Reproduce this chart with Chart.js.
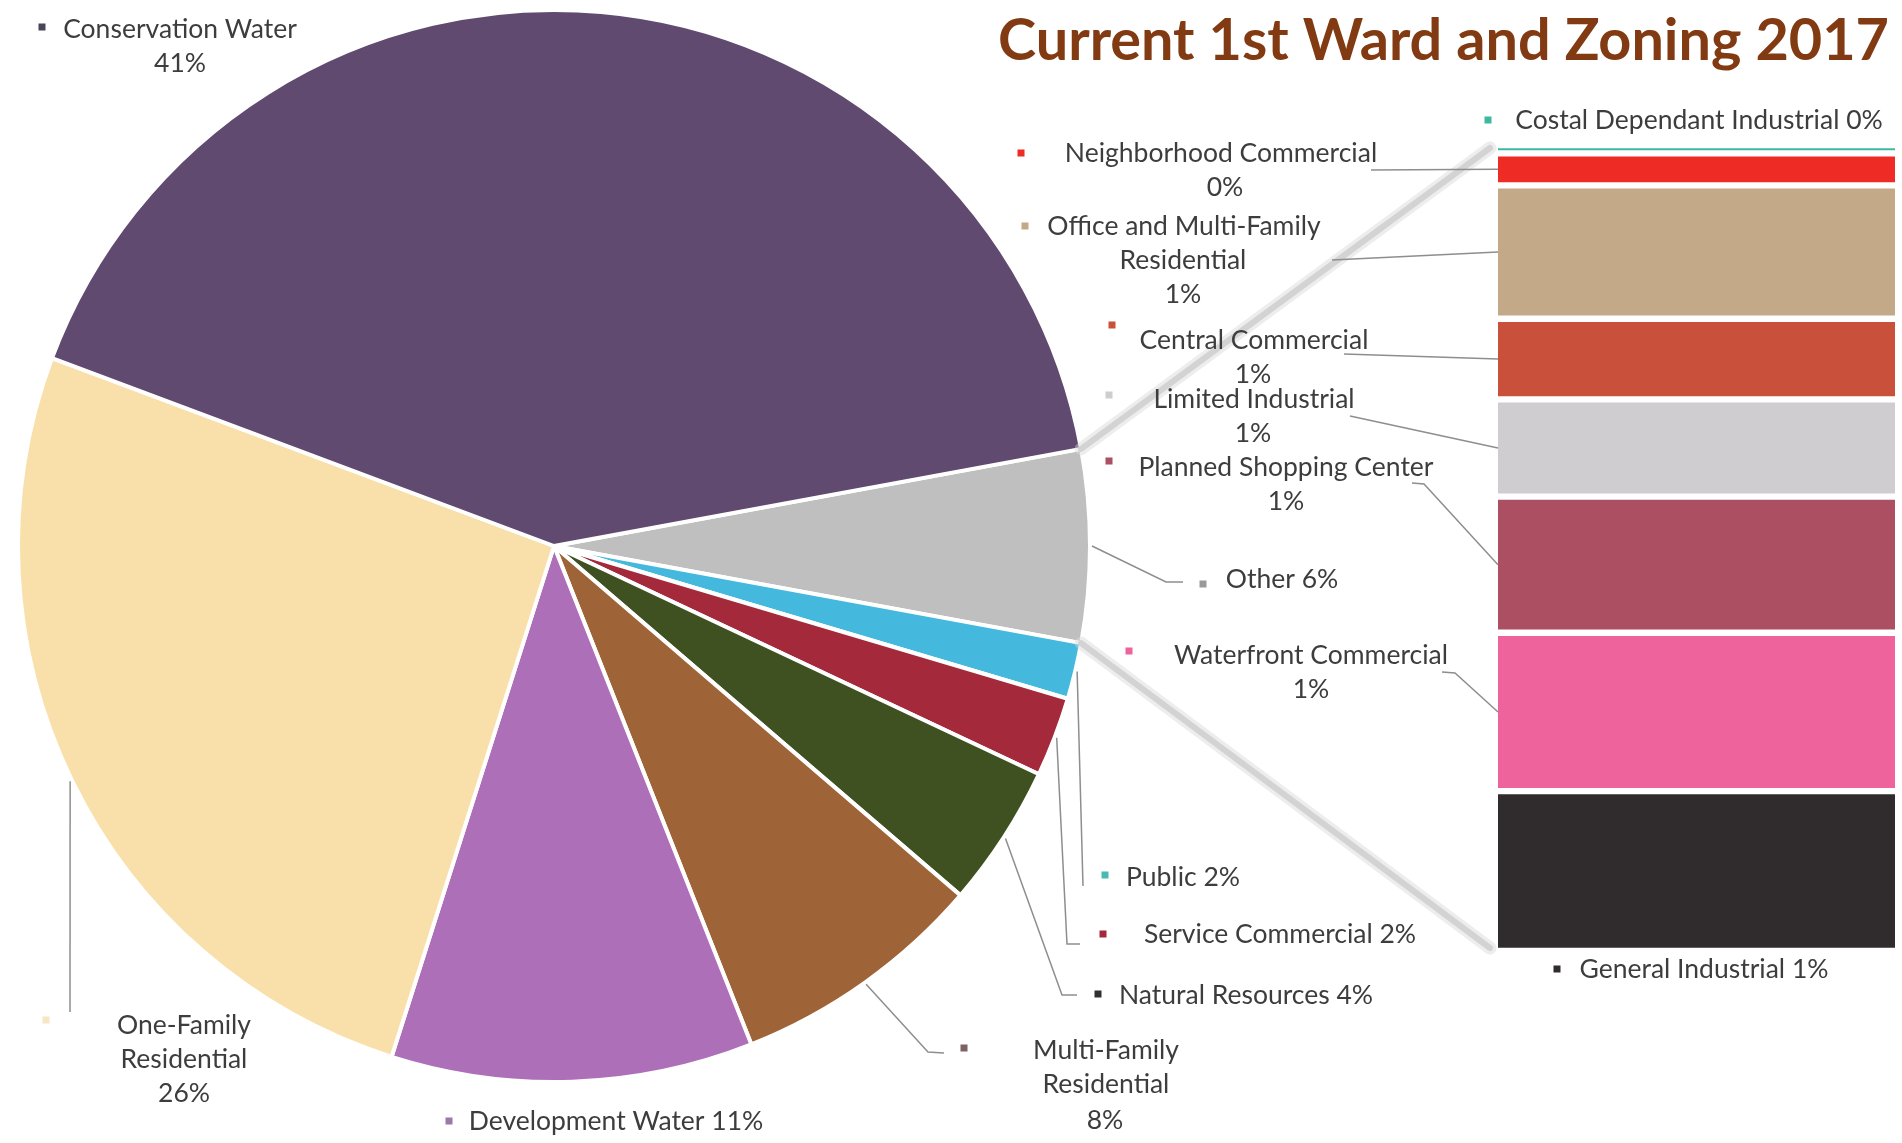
<!DOCTYPE html>
<html>
<head>
<meta charset="utf-8">
<script src="https://cdn.jsdelivr.net/npm/chart.js@4.4.1/dist/chart.umd.min.js"></script>
<style>
  html, body { margin: 0; padding: 0; background: #fff; }
  #wrap { position: relative; width: 1902px; height: 1143px; overflow: hidden; }
  canvas { position: absolute; left: 0; top: 0; }
</style>
</head>
<body>
<div id="wrap">
  <canvas id="pieChart" width="1902" height="1143"></canvas>
  <canvas id="barChart" width="1902" height="1143"></canvas>
</div>
<script>
// pie slices, clockwise starting with "Other" (which is split into the bar)
const pieLabels = ["Other", "Public", "Service Commercial", "Natural Resources",
    "Multi-Family Residential", "Development Water", "One-Family Residential", "Conservation Water"];
const pieValues = [5.8, 1.7, 2.4, 4.3, 7.7, 10.9, 25.8, 41.4];
const pieColors = ["#bfbfbf", "#45b8de", "#a3293b", "#3f5121", "#9f6338", "#ad6fb8", "#f9e0ab", "#604a70"];
// legend keys inside the labels render a bit differently from the slices
const pieKeyColors = ["#9a9a9a", "#4cb8b4", "#a3293b", "#303030", "#7d6262", "#9a78a8", "#f6e6c4", "#4a4458"];

// breakdown of "Other", top to bottom
const barLabels = ["Costal Dependant Industrial", "Neighborhood Commercial", "Office and Multi-Family Residential",
    "Central Commercial", "Limited Industrial", "Planned Shopping Center", "Waterfront Commercial", "General Industrial"];
const barValues = [0.06, 0.23, 0.96, 0.58, 0.70, 0.98, 1.14, 1.15];
const barColors = ["#3cb9a0", "#ee2b24", "#c3a988", "#c9503a", "#cfcdcf", "#ad4f63", "#ee639c", "#302c2e"];

const titleText = "Current 1st Ward and Zoning 2017";
const textColor = "#3d3d3d";
const leaderColor = "#8e8e8e";

// hand placed label boxes (Excel labels were dragged around)
// lines: [text, centerX, y], key: [x, y], path: leader points on the label side
const pieLabelPos = {
    "Conservation Water": { lines: [["Conservation Water", 180, 29], ["%", 180, 63]], key: [42, 27] },
    "One-Family Residential": { lines: [["One-Family", 184, 1025], ["Residential", 184, 1059], ["%", 184, 1093]], key: [46, 1020], path: [[70, 1012]] },
    "Development Water": { lines: [["Development Water %", 616, 1121]], key: [449, 1121] },
    "Multi-Family Residential": { lines: [["Multi-Family", 1106, 1050], ["Residential", 1106, 1084], ["%", 1105, 1120]], key: [964, 1048], path: [[928, 1052], [944, 1053]] },
    "Natural Resources": { lines: [["Natural Resources %", 1246, 995]], key: [1098, 994], path: [[1062, 995], [1077, 995]] },
    "Service Commercial": { lines: [["Service Commercial %", 1280, 934]], key: [1103, 934], path: [[1067, 944], [1080, 944]] },
    "Public": { lines: [["Public %", 1183, 877]], key: [1105, 875], path: [[1083, 886]] },
    "Other": { lines: [["Other %", 1282, 579]], key: [1203, 584], path: [[1166, 582], [1183, 582]] }
};
const barLabelPos = {
    "Costal Dependant Industrial": { lines: [["Costal Dependant Industrial %", 1699, 120]], key: [1488, 120] },
    "Neighborhood Commercial": { lines: [["Neighborhood Commercial", 1221, 153], ["%", 1225, 187]], key: [1021, 153], path: [[1371, 170]] },
    "Office and Multi-Family Residential": { lines: [["Office and Multi-Family", 1184, 226], ["Residential", 1183, 260], ["%", 1183, 294]], key: [1025, 226], path: [[1332, 260]] },
    "Central Commercial": { lines: [["Central Commercial", 1254, 340], ["%", 1253, 374]], key: [1112, 325], path: [[1344, 354]] },
    "Limited Industrial": { lines: [["Limited Industrial", 1254, 399], ["%", 1253, 433]], key: [1109, 395], path: [[1350, 416]] },
    "Planned Shopping Center": { lines: [["Planned Shopping Center", 1286, 467], ["%", 1286, 501]], key: [1109, 461], path: [[1412, 483], [1424, 484]] },
    "Waterfront Commercial": { lines: [["Waterfront Commercial", 1311, 655], ["%", 1311, 689]], key: [1129, 651], path: [[1442, 672], [1455, 673]] },
    "General Industrial": { lines: [["General Industrial %", 1704, 969]], key: [1557, 969] }
};

const pieTotal = pieValues.reduce((a, b) => a + b, 0);
const barTotal = barValues.reduce((a, b) => a + b, 0);
const pct = v => Math.round(v / pieTotal * 100) + "%";
const FONT = "Lato, 'Liberation Sans', sans-serif";

const pieChart = new Chart(document.getElementById("pieChart"), {
    type: "pie",
    data: {
        labels: pieLabels,
        datasets: [{
            data: pieValues,
            backgroundColor: pieColors,
            borderColor: "#ffffff",
            borderWidth: 4
        }]
    },
    options: {
        responsive: false,
        animation: false,
        rotation: 90 - (pieValues[0] / pieTotal) * 180,
        layout: { padding: { left: 16, top: 8, right: 810, bottom: 59 } },
        plugins: { legend: { display: false }, tooltip: { enabled: false } }
    }
});

function drawLeader(ctx, start, path) {
    ctx.beginPath();
    ctx.moveTo(start[0], start[1]);
    path.forEach(p => ctx.lineTo(p[0], p[1]));
    ctx.stroke();
}

function drawLabel(ctx, pos, value, color) {
    ctx.fillStyle = color;
    ctx.fillRect(pos.key[0] - 3.5, pos.key[1] - 3.5, 7, 7);
    ctx.fillStyle = textColor;
    pos.lines.forEach(l => {
        ctx.fillText(l[0].replace("%", pct(value)), l[1], l[2]);
    });
}

const overlay = {
    id: "overlay",
    beforeDatasetsDraw(chart) {
        const ctx = chart.ctx;
        const area = chart.chartArea;
        const other = pieChart.getDatasetMeta(0).data[0];
        ctx.save();
        // series lines from the Other slice to the bar, soft grey like Excel's
        ctx.lineCap = "round";
        [[other.startAngle, area.top + 3], [other.endAngle, area.bottom - 3]].forEach(([a, yEnd]) => {
            const x0 = other.x + Math.cos(a) * other.outerRadius;
            const y0 = other.y + Math.sin(a) * other.outerRadius;
            const x1 = area.left - 8;
            ctx.strokeStyle = "rgba(215,215,215,0.45)";
            ctx.lineWidth = 13;
            ctx.beginPath(); ctx.moveTo(x0, y0); ctx.lineTo(x1, yEnd); ctx.stroke();
            ctx.strokeStyle = "rgba(185,185,185,0.5)";
            ctx.lineWidth = 6;
            ctx.beginPath(); ctx.moveTo(x0, y0); ctx.lineTo(x1, yEnd); ctx.stroke();
        });
        ctx.restore();
    },
    afterDraw(chart) {
        const ctx = chart.ctx;
        const arcs = pieChart.getDatasetMeta(0).data;
        ctx.save();
        ctx.strokeStyle = leaderColor;
        ctx.lineWidth = 1.5;
        // pie leaders
        pieLabels.forEach((name, i) => {
            const pos = pieLabelPos[name];
            if (!pos.path) return;
            const a = arcs[i];
            const mid = (a.startAngle + a.endAngle) / 2;
            drawLeader(ctx, [a.x + Math.cos(mid) * (a.outerRadius + 2), a.y + Math.sin(mid) * (a.outerRadius + 2)], pos.path);
        });
        // bar leaders
        barLabels.forEach((name, i) => {
            const pos = barLabelPos[name];
            if (!pos.path) return;
            const el = chart.getDatasetMeta(i).data[0];
            const pts = pos.path.slice().reverse();
            drawLeader(ctx, [el.x - el.width / 2, (el.y + el.base) / 2], pts);
        });

        ctx.font = "26.5px " + FONT;
        ctx.textAlign = "center";
        ctx.textBaseline = "middle";
        pieLabels.forEach((name, i) => drawLabel(ctx, pieLabelPos[name], pieValues[i], pieKeyColors[i]));
        barLabels.forEach((name, i) => drawLabel(ctx, barLabelPos[name], barValues[i], barColors[i]));

        // title
        ctx.font = "bold 58px " + FONT;
        const w = ctx.measureText(titleText).width;
        const size = 58 * 891 / w;
        ctx.font = "bold " + size.toFixed(1) + "px " + FONT;
        ctx.fillStyle = "#823a12";
        ctx.textAlign = "right";
        ctx.fillText(titleText, 1889, 41);
        ctx.restore();
    }
};

const barChart = new Chart(document.getElementById("barChart"), {
    type: "bar",
    data: {
        labels: ["Other"],
        datasets: barLabels.map((name, i) => ({
            label: name,
            data: [barValues[i]],
            backgroundColor: barColors[i],
            borderColor: "#ffffff",
            borderWidth: { top: 3.5, bottom: 3.5, left: 0, right: 0 },
            borderSkipped: false,
            barPercentage: 1,
            categoryPercentage: 1
        }))
    },
    options: {
        responsive: false,
        animation: false,
        layout: { padding: { left: 1498, top: 145, right: 7, bottom: 192 } },
        scales: {
            x: { display: false, stacked: true },
            y: { display: false, stacked: true, reverse: true, min: 0, max: barTotal }
        },
        plugins: { legend: { display: false }, tooltip: { enabled: false } }
    },
    plugins: [overlay]
});
</script>
</body>
</html>
